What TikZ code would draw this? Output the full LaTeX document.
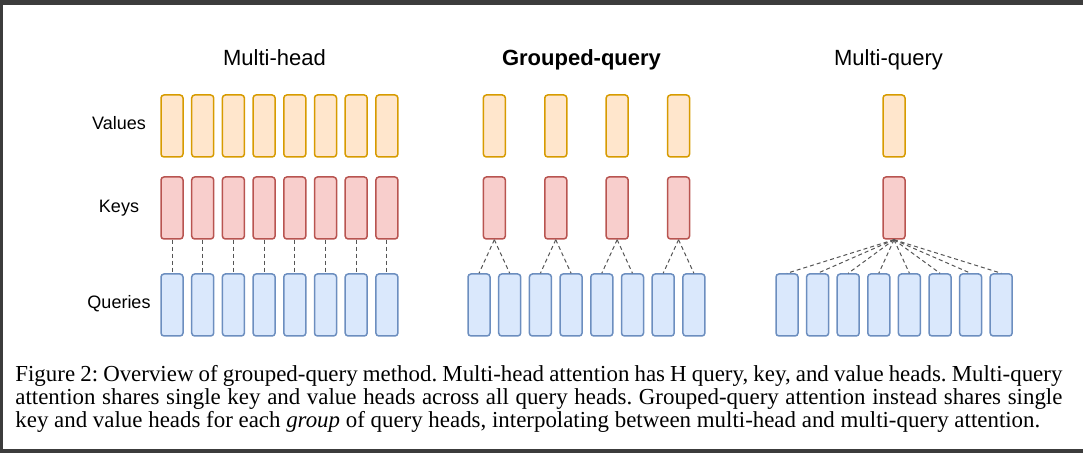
\documentclass[tikz,border=0pt]{standalone}
\usepackage{xcolor}
\usepackage{fontspec}
\setmainfont{Liberation Serif}
\newfontfamily\headfont{Liberation Sans}
\usepackage{tikz}
\usetikzlibrary{positioning}

\definecolor{valfill}{HTML}{FFE6CC}
\definecolor{valdraw}{HTML}{D79B00}
\definecolor{keyfill}{HTML}{F8CECC}
\definecolor{keydraw}{HTML}{B85450}
\definecolor{qryfill}{HTML}{DAE8FC}
\definecolor{qrydraw}{HTML}{6C8EBF}
\definecolor{linkgray}{HTML}{555555}
\definecolor{framedark}{HTML}{3C3C3C}

\tikzset{
  head/.style={rectangle, rounded corners=1.5pt, line width=0.75pt,
    minimum width=11pt, minimum height=31pt, inner sep=0pt},
  valhead/.style={head, draw=valdraw, fill=valfill},
  keyhead/.style={head, draw=keydraw, fill=keyfill},
  qryhead/.style={head, draw=qrydraw, fill=qryfill},
  link/.style={draw=linkgray, line width=0.5pt, dash pattern=on 2pt off 1.5pt},
  paneltitle/.style={font=\headfont\fontsize{11}{13}\selectfont, anchor=base},
  rowlabel/.style={font=\headfont\fontsize{9}{11}\selectfont, anchor=base}
}

\begin{document}
\begin{tikzpicture}[x=0.5pt, y=-0.5pt]
  \useasboundingbox (0,0) rectangle (1083,453);
  \fill[framedark] (0,0) rectangle (1083,5);
  \fill[framedark] (0,0) rectangle (3,453);
  \fill[framedark] (0,449) rectangle (1083,453);

  \node[rowlabel] (lblval) at (119,130) {Values};
  \node[rowlabel] (lblkey) at (119,213) {Keys};
  \node[rowlabel] (lblqry) at (119,309) {Queries};

  \node[paneltitle] (mhtitle) at (274.5,66) {Multi-head};
  \node[paneltitle] (gqtitle) at (581.5,66) {\bfseries Grouped-query};
  \node[paneltitle] (mqtitle) at (888.5,66) {Multi-query};

  % multi-head
  \foreach \i in {1,...,8} {
    \node[valhead] (mhv\i) at ({172+30.7*(\i-1)},126) {};
    \node[keyhead] (mhk\i) at ({172+30.7*(\i-1)},208) {};
    \node[qryhead] (mhq\i) at ({172+30.7*(\i-1)},305) {};
    \draw[link] (mhk\i.south) -- (mhq\i.north);
  }

  % grouped-query
  \foreach \i in {1,...,8}
    \node[qryhead] (gqq\i) at ({479+30.7*(\i-1)},305) {};
  \foreach \j [evaluate=\j as \qa using int(2*\j-1),
               evaluate=\j as \qb using int(2*\j)] in {1,...,4} {
    \node[valhead] (gqv\j) at ({494.35+61.4*(\j-1)},126) {};
    \node[keyhead] (gqk\j) at ({494.35+61.4*(\j-1)},208) {};
    \draw[link] (gqk\j.south) -- (gqq\qa.north);
    \draw[link] (gqk\j.south) -- (gqq\qb.north);
  }

  % multi-query
  \node[valhead] (mqv) at (894,126) {};
  \node[keyhead] (mqk) at (894,208) {};
  \foreach \i in {1,...,8} {
    \node[qryhead] (mqq\i) at ({787+30.6*(\i-1)},305) {};
    \draw[link] (mqk.south) -- (mqq\i.north);
  }

  \node[anchor=base west, inner sep=0pt, text width=523.5pt, align=justify,
    font=\fontsize{11.45}{11.5}\selectfont\frenchspacing] (caption) at (15,382)
    {Figure 2: Overview of grouped-query method. Multi-head attention has H query, key, and value heads. Multi-query\linebreak
     attention shares single key and value heads across all query heads. Grouped-query attention instead shares single\linebreak
     key and value heads for each \emph{group} of query heads, interpolating between multi-head and multi-query attention.};
\end{tikzpicture}
\end{document}
